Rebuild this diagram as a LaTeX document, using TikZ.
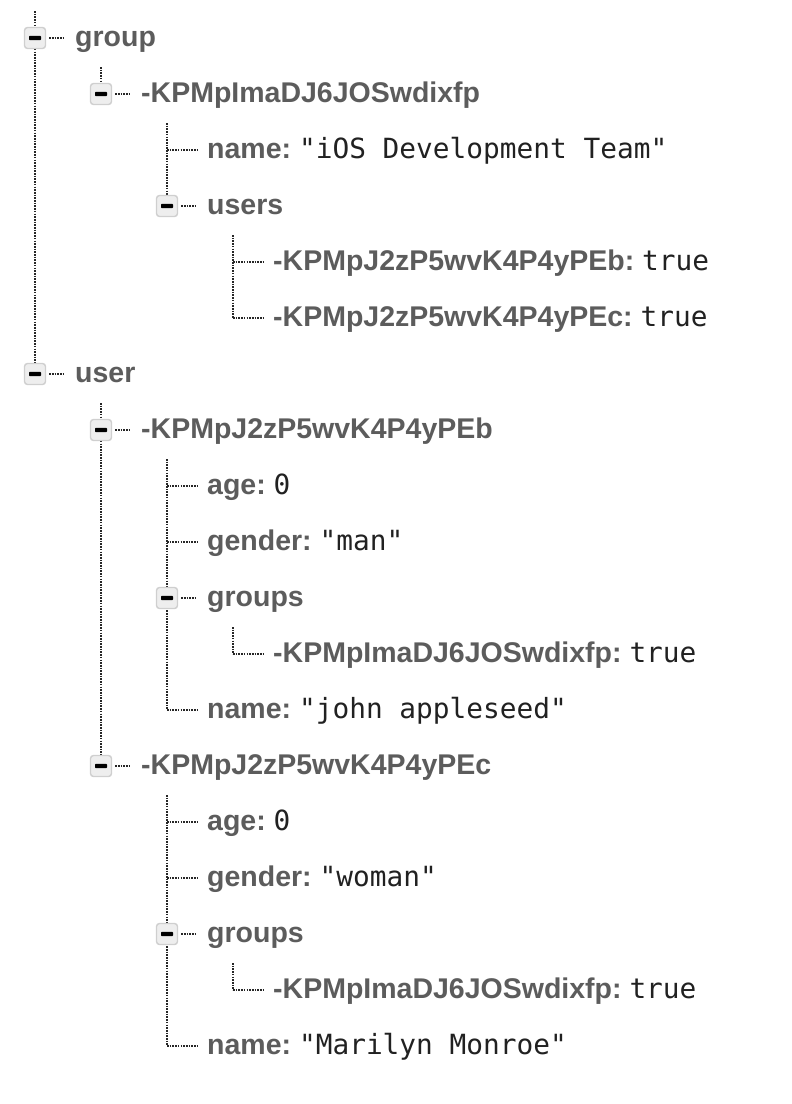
\documentclass[tikz,border=0pt]{standalone}
\usepackage{fontspec}
\setmainfont{Liberation Sans}
\setmonofont{DejaVu Sans Mono}
\usetikzlibrary{backgrounds}
\definecolor{keygray}{HTML}{5C5C5C}
\definecolor{valgray}{HTML}{212121}
\definecolor{dotgray}{HTML}{262626}
\definecolor{boxfill}{HTML}{EEEEEE}
\definecolor{boxline}{HTML}{CFCFCF}
\newcommand\kv[2]{#1:\ {\mdseries\ttfamily\fontsize{27.8}{30}\selectfont\color{valgray}#2}}
\begin{document}
\begin{tikzpicture}[x=1pt, y=-1pt,
  key/.style={anchor=west, inner sep=0pt, text height=21pt, text depth=4pt, text=keygray, font=\bfseries\fontsize{28.5}{30}\selectfont},
  toggle/.style={draw=boxline, fill=boxfill, line width=1.4pt, rounded corners=3pt, minimum size=21pt, inner sep=0pt,
    path picture={\fill[black, rounded corners=0.8pt] ([xshift=-6pt,yshift=-2.2pt]path picture bounding box.center) rectangle ([xshift=6pt,yshift=2.2pt]path picture bounding box.center);}},
  dots/.style={draw=dotgray, line width=2.2pt, dash pattern=on 1.6pt off 1.1pt}]
\useasboundingbox (0,0) rectangle (792,1104);
% toggles
\node[toggle] (b-group) at (35,38) {};
\node[toggle] (b-gid) at (101,94) {};
\node[toggle] (b-users) at (167,206) {};
\node[toggle] (b-user) at (35,374) {};
\node[toggle] (b-uidb) at (101,430) {};
\node[toggle] (b-groupsb) at (167,598) {};
\node[toggle] (b-uidc) at (101,766) {};
\node[toggle] (b-groupsc) at (167,934) {};
% keys
\node[key] (group) at (75,38) {group};
\node[key] (gid) at (141,94) {-KPMpImaDJ6JOSwdixfp};
\node[key] (gname) at (207,150) {\kv{name}{"iOS Development Team"}};
\node[key] (users) at (207,206) {users};
\node[key] (usrb) at (273,262) {\kv{-KPMpJ2zP5wvK4P4yPEb}{true}};
\node[key] (usrc) at (273,318) {\kv{-KPMpJ2zP5wvK4P4yPEc}{true}};
\node[key] (user) at (75,374) {user};
\node[key] (uidb) at (141,430) {-KPMpJ2zP5wvK4P4yPEb};
\node[key] (ageb) at (207,486) {\kv{age}{0}};
\node[key] (genderb) at (207,542) {\kv{gender}{"man"}};
\node[key] (groupsb) at (207,598) {groups};
\node[key] (grpb) at (273,654) {\kv{-KPMpImaDJ6JOSwdixfp}{true}};
\node[key] (nameb) at (207,710) {\kv{name}{"john appleseed"}};
\node[key] (uidc) at (141,766) {-KPMpJ2zP5wvK4P4yPEc};
\node[key] (agec) at (207,822) {\kv{age}{0}};
\node[key] (genderc) at (207,878) {\kv{gender}{"woman"}};
\node[key] (groupsc) at (207,934) {groups};
\node[key] (grpc) at (273,990) {\kv{-KPMpImaDJ6JOSwdixfp}{true}};
\node[key] (namec) at (207,1046) {\kv{name}{"Marilyn Monroe"}};
% junctions of the leaves
\coordinate (t-root) at (35,11);
\coordinate (t-gid) at (101,67);
\coordinate (t-gkids) at (167,123);
\coordinate (t-ukids) at (233,235);
\coordinate (t-uids) at (101,403);
\coordinate (t-bkids) at (167,459);
\coordinate (t-bgrp) at (233,627);
\coordinate (t-ckids) at (167,795);
\coordinate (t-cgrp) at (233,963);
\coordinate (j-gname) at (167,150);
\coordinate (j-usrb) at (233,262);
\coordinate (j-usrc) at (233,318);
\coordinate (j-ageb) at (167,486);
\coordinate (j-genderb) at (167,542);
\coordinate (j-grpb) at (233,654);
\coordinate (j-nameb) at (167,710);
\coordinate (j-agec) at (167,822);
\coordinate (j-genderc) at (167,878);
\coordinate (j-grpc) at (233,990);
\coordinate (j-namec) at (167,1046);
\begin{scope}[on background layer]
\draw[dots] (t-root) -- (b-user.center);
\draw[dots] (t-gid) -- (b-gid.center);
\draw[dots] (t-gkids) -- (b-users.center);
\draw[dots] (t-ukids) -- (j-usrc);
\draw[dots] (t-uids) -- (b-uidc.center);
\draw[dots] (t-bkids) -- (j-nameb);
\draw[dots] (t-bgrp) -- (j-grpb);
\draw[dots] (t-ckids) -- (j-namec);
\draw[dots] (t-cgrp) -- (j-grpc);
\end{scope}
\begin{scope}
\foreach \b/\k in {b-group/group, b-gid/gid, b-users/users, b-user/user, b-uidb/uidb, b-groupsb/groupsb, b-uidc/uidc, b-groupsc/groupsc}
  \draw[dots] ([xshift=3pt]\b.east) -- ([xshift=-12pt]\k.west);
\foreach \k in {gname, usrb, usrc, ageb, genderb, grpb, nameb, agec, genderc, grpc, namec}
  \draw[dots] (j-\k) -- ([xshift=-10pt]\k.west);
\end{scope}
\end{tikzpicture}
\end{document}
